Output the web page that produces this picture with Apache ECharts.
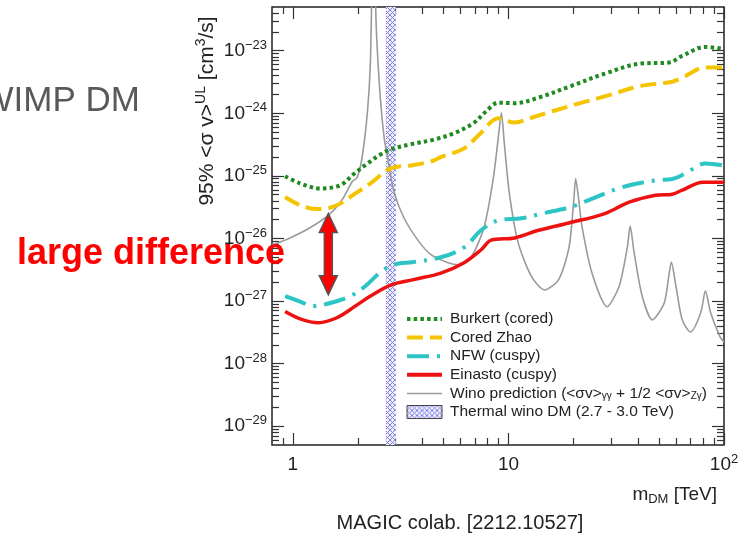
<!DOCTYPE html>
<html>
<head>
<meta charset="utf-8">
<script src="https://cdn.jsdelivr.net/npm/echarts@6.0.0/dist/echarts.min.js"></script>
<style>
html,body{margin:0;padding:0;background:#fff;}
#main{width:750px;height:538px;}
</style>
</head>
<body>
<div id="main"></div>
<script>
// m_DM [TeV] , 95% UL <sigma v> [cm^3/s]
var burkert = [[0.92,9.9e-26],[1.08,7.6e-26],[1.34,6.3e-26],[1.66,7.1e-26],[1.91,1.06e-25],[2.22,1.58e-25],[2.55,2.2e-25],[2.84,2.65e-25],[3.52,3.2e-25],[4.51,3.8e-25],[5.59,4.8e-25],[6.93,7.1e-25],[7.87,1.07e-24],[8.98,1.48e-24],[10.7,1.45e-24],[13.8,1.78e-24],[19.6,2.75e-24],[28.0,4.3e-24],[40.4,6.2e-24],[55.7,6.5e-24],[64.0,8.3e-24],[82.0,1.15e-23],[98.6,1.07e-23]];
var coredZhao = [[0.92,4.6e-26],[1.08,3.4e-26],[1.28,2.95e-26],[1.57,3.3e-26],[1.99,5.5e-26],[2.29,7.6e-26],[2.84,1.32e-25],[3.52,1.47e-25],[4.37,1.7e-25],[4.86,2.0e-25],[6.23,2.75e-25],[7.47,4.9e-25],[8.98,8.3e-25],[10.7,7.1e-25],[12.8,8.5e-25],[16.3,1.1e-24],[21.9,1.48e-24],[28.0,1.86e-24],[40.4,2.7e-24],[57.6,3.2e-24],[64.0,3.7e-24],[82.0,5.4e-24],[98.6,5.4e-24]];
var nfw = [[0.92,1.2e-27],[1.08,9.8e-28],[1.24,8.3e-28],[1.49,9.3e-28],[1.85,1.2e-27],[2.17,1.74e-27],[2.55,2.9e-27],[2.93,3.8e-27],[3.63,4.2e-27],[4.86,5.0e-27],[6.23,7.2e-27],[7.47,1.35e-26],[8.98,1.95e-26],[11.5,2.1e-26],[14.3,2.5e-26],[19.6,3.2e-26],[23.6,4.1e-26],[33.7,6.6e-26],[48.2,8.5e-26],[57.6,8.9e-26],[66.5,1.1e-25],[82.0,1.58e-25],[98.6,1.47e-25]];
var einasto = [[0.92,6.8e-28],[1.08,5.2e-28],[1.31,4.5e-28],[1.60,5.4e-28],[1.95,8.3e-28],[2.29,1.2e-27],[2.84,1.8e-27],[3.63,2.2e-27],[4.86,2.8e-27],[6.23,4.1e-27],[7.47,6.6e-27],[8.32,9.4e-27],[10.7,1.02e-26],[13.8,1.35e-26],[19.1,1.77e-26],[28.0,2.5e-26],[36.3,3.8e-26],[48.2,4.9e-26],[57.6,5.1e-26],[64.0,5.9e-26],[79.9,7.9e-26],[100,7.9e-26]];
var wino = [[0.8,7.9e-27],[0.97,1.02e-26],[1.2,1.48e-26],[1.49,2.5e-26],[1.71,4.4e-26],[1.88,8.0e-26],[1.99,9.5e-26],[2.10,2.1e-25],[2.22,1.1e-24],[2.29,6.9e-24],[2.36,1e-21],[2.44,2.1e-23],[2.55,1.6e-24],[2.66,3.7e-25],[2.75,2.0e-25],[2.93,5.9e-26],[3.26,2.2e-26],[3.80,9.4e-27],[4.37,5.5e-27],[5.24,4.1e-27],[5.91,3.8e-27],[6.71,5.0e-27],[7.7,1.5e-26],[8.52,9.5e-26],[9.08,5.9e-25],[9.27,1.02e-24],[9.57,3.3e-25],[10.1,5.2e-26],[11.1,8.5e-27],[12.8,2.45e-27],[14.7,1.5e-27],[17.1,2.2e-27],[19.1,7.2e-27],[20.1,4.1e-26],[20.5,9.1e-26],[21.2,4.1e-26],[21.9,1.6e-26],[24.4,2.8e-27],[28.7,8.1e-28],[32.6,1.7e-27],[35.6,7.2e-27],[36.7,1.58e-26],[38.3,5.9e-27],[41.8,1.17e-27],[46.5,5.0e-28],[52.8,9.3e-28],[55.7,2.8e-27],[57.0,4.2e-27],[59.5,1.95e-27],[64.0,5.0e-28],[69.9,3.2e-28],[78.0,6.5e-28],[82.0,1.45e-27],[86.7,6.5e-28],[95.8,2.7e-28],[100,2.2e-28]];
var thermalBand = [2.7, 3.0];
var names = ['Burkert (cored)', 'Cored Zhao', 'NFW (cuspy)', 'Einasto (cuspy)', 'Wino prediction', 'Thermal wino DM (2.7 - 3.0 TeV)'];

var xMin = 0.8, xMax = 100, yMin = 5e-30, yMax = 5e-23;
var xMajor = [1, 10, 100];
var xMinor = [0.9, 2, 3, 4, 5, 6, 7, 8, 9, 20, 30, 40, 50, 60, 70, 80, 90];
// y tick labels are powers of ten: 10^-29 ... 10^-23
var yExp = [-29, -28, -27, -26, -25, -24, -23];
// tick axes work in units of 1e-30 cm^3/s (ECharts rounds tiny log ticks to 0)
var UNIT = 30;
var yMajorS = yExp.map(function (p) { return Math.pow(10, p + UNIT); });
var yMinorS = [];
for (var p = -30; p <= -23; p++) {
  for (var k = 2; k <= 9; k++) {
    var s = k * Math.pow(10, p + UNIT);
    if (s > yMin * 1.01 * Math.pow(10, UNIT) && s < yMax * 0.99 * Math.pow(10, UNIT)) yMinorS.push(s);
  }
}
// arrow annotation (mass, top, bottom)
var arrowAt = [1.46, 2.5e-26, 1.26e-27];

var FONT = 'Liberation Sans, Arial, Helvetica, sans-serif';

function hatch() {
  var c = document.createElement('canvas');
  c.width = 5; c.height = 5;
  var g = c.getContext('2d');
  g.fillStyle = '#eeeefd';
  g.fillRect(0, 0, 5, 5);
  g.strokeStyle = '#8282e0';
  g.lineWidth = 1;
  g.beginPath();
  g.moveTo(0, 0); g.lineTo(5, 5);
  g.moveTo(5, 0); g.lineTo(0, 5);
  g.stroke();
  return c;
}
var pattern = {image: hatch(), repeat: 'repeat'};

var tickStyle = {color: '#333', width: 1.2};
var richNum = {
  b: {fontFamily: FONT, fontSize: 19, lineHeight: 24, color: '#222'},
  s: {fontFamily: FONT, fontSize: 13, lineHeight: 13, verticalAlign: 'top', color: '#222'}
};
function xAx(pos, vals, len, labels) {
  return {
    type: 'log', min: xMin, max: xMax, position: pos,
    axisLine: {show: false, onZero: false}, splitLine: {show: false},
    axisTick: {show: true, inside: true, length: len, lineStyle: tickStyle, customValues: vals},
    axisLabel: labels ? {
      show: true, margin: 8, customValues: xMajor,
      formatter: function (v) { return v >= 100 ? '{b|10}{s|2}' : '{b|' + v + '}'; },
      rich: richNum
    } : {show: false}
  };
}
function yAx(pos, vals, len, labels) {
  return {
    type: 'log', min: yMin * Math.pow(10, UNIT), max: yMax * Math.pow(10, UNIT), position: pos,
    axisLine: {show: false, onZero: false}, splitLine: {show: false},
    axisTick: {show: true, inside: true, length: len, lineStyle: tickStyle, customValues: vals},
    axisLabel: labels ? {
      show: true, margin: 5, customValues: yMajorS,
      formatter: function (v) {
        var e = Math.round(Math.log10(v)) - UNIT;
        return '{b|10}{s|' + (e < 0 ? '\u2212' + (-e) : e) + '}';
      },
      rich: richNum
    } : {show: false}
  };
}

function lineSeries(name, data, color, width, type, z, smooth) {
  return {
    name: name, type: 'line', data: data, xAxisIndex: 0, yAxisIndex: 0,
    showSymbol: false, symbol: 'none', smooth: smooth,
    z: z, clip: true,
    lineStyle: {color: color, width: width, type: type, cap: 'butt'},
    itemStyle: {color: color},
    emphasis: {disabled: true}
  };
}

var chart = echarts.init(document.getElementById('main'), null, {renderer: 'canvas'});
var option = {
  animation: false,
  backgroundColor: '#fff',
  textStyle: {fontFamily: FONT},
  grid: {left: 272, right: 26, top: 7, bottom: 93, show: true, borderColor: '#222', borderWidth: 1.5, backgroundColor: 'transparent', outerBoundsMode: 'none'},
  xAxis: [
    xAx('bottom', xMajor, 12, true), xAx('bottom', xMinor, 7, false),
    xAx('top', xMajor, 12, false), xAx('top', xMinor, 7, false)
  ],
  yAxis: [
    // data axis (real units), no decoration
    {type: 'log', min: yMin, max: yMax, position: 'left', axisLine: {show: false}, axisTick: {show: false}, axisLabel: {show: false}, splitLine: {show: false}},
    yAx('left', yMajorS, 12, true), yAx('left', yMinorS, 7, false),
    yAx('right', yMajorS, 12, false), yAx('right', yMinorS, 7, false)
  ],
  legend: {
    orient: 'vertical', left: 405, top: 311, padding: 0, itemWidth: 35, itemHeight: 13, itemGap: 2.6,
    selectedMode: false,
    textStyle: {
      fontFamily: FONT, fontSize: 15.5, color: '#222', lineHeight: 16, padding: [0, 0, 0, 3],
      rich: {sub: {fontFamily: FONT, fontSize: 10, lineHeight: 10, verticalAlign: 'bottom', color: '#222'}}
    },
    formatter: function (n) {
      if (n === names[4]) return 'Wino prediction (<\u03c3v>{sub|\u03b3\u03b3} + 1/2 <\u03c3v>{sub|Z\u03b3})';
      return n;
    },
    data: [
      {name: names[0], itemStyle: {color: 'rgba(0,0,0,0)', borderWidth: 0}, lineStyle: {width: 4}},
      {name: names[1], itemStyle: {color: 'rgba(0,0,0,0)', borderWidth: 0}, lineStyle: {width: 4}},
      {name: names[2], itemStyle: {color: 'rgba(0,0,0,0)', borderWidth: 0}, lineStyle: {width: 4}},
      {name: names[3], itemStyle: {color: 'rgba(0,0,0,0)', borderWidth: 0}, lineStyle: {width: 4}},
      {name: names[4], itemStyle: {color: 'rgba(0,0,0,0)', borderWidth: 0}, lineStyle: {width: 1.5}},
      {name: names[5], icon: 'rect', itemStyle: {color: pattern, borderColor: '#444', borderWidth: 1}}
    ]
  },
  series: [
    {
      name: names[5], type: 'line', data: [], xAxisIndex: 0, yAxisIndex: 0, z: 1,
      markArea: {silent: true, itemStyle: {color: pattern, opacity: 1}, data: [[{xAxis: thermalBand[0]}, {xAxis: thermalBand[1]}]]}
    },
    lineSeries(names[4], wino, '#9a9a9a', 1.6, 'solid', 2, 0.25),
    lineSeries(names[0], burkert, '#1f8a1f', 4, [3.5, 3.2], 3, 0.35),
    lineSeries(names[1], coredZhao, '#f5c400', 4, [16, 7], 3, 0.35),
    lineSeries(names[2], nfw, '#2cc4c4', 4, [22, 8, 3, 8], 3, 0.35),
    lineSeries(names[3], einasto, '#ee1111', 3.5, 'solid', 3, 0.35)
  ]
};
chart.setOption(option);

// annotations
var pTop = chart.convertToPixel({seriesIndex: 1}, [arrowAt[0], arrowAt[1]]);
var pBot = chart.convertToPixel({seriesIndex: 1}, [arrowAt[0], arrowAt[2]]);
var ax = pTop[0], hw = 9, sw = 4, hh = 19;
var arrowPts = [
  [ax, pTop[1]], [ax + hw, pTop[1] + hh], [ax + sw, pTop[1] + hh], [ax + sw, pBot[1] - hh],
  [ax + hw, pBot[1] - hh], [ax, pBot[1]], [ax - hw, pBot[1] - hh], [ax - sw, pBot[1] - hh],
  [ax - sw, pTop[1] + hh], [ax - hw, pTop[1] + hh]
];

chart.setOption({
  graphic: [
    {type: 'text', x: 140, y: 101, z: 50, style: {text: 'WIMP DM', fontFamily: FONT, fontSize: 35, fill: '#595959', align: 'right', verticalAlign: 'middle'}},
    {type: 'text', x: 207, y: 111, rotation: Math.PI / 2, z: 50,
      style: {text: '95% <\u03c3 v>{s|UL} [cm{s|3}/s]', fontFamily: FONT, fontSize: 21, lineHeight: 26, fill: '#222', align: 'center', verticalAlign: 'middle',
        rich: {s: {fontFamily: FONT, fontSize: 14, lineHeight: 14, verticalAlign: 'top', fill: '#222'}}}},
    {type: 'text', x: 717, y: 495, z: 50,
      style: {text: 'm{d|DM} [TeV]', fontFamily: FONT, fontSize: 19, lineHeight: 22, fill: '#222', align: 'right', verticalAlign: 'middle',
        rich: {d: {fontFamily: FONT, fontSize: 13, lineHeight: 13, verticalAlign: 'bottom', fill: '#222'}}}},
    {type: 'text', x: 460, y: 523, z: 50, style: {text: 'MAGIC colab. [2212.10527]', fontFamily: FONT, fontSize: 20, fill: '#222', align: 'center', verticalAlign: 'middle'}},
    {type: 'polygon', z: 90, shape: {points: arrowPts}, style: {fill: '#ff0000', stroke: '#555', lineWidth: 1.5}},
    {type: 'text', x: 17, y: 254, z: 100, style: {text: 'large difference', fontFamily: FONT, fontSize: 36, fontWeight: 'bold', fill: '#ff0000', align: 'left', verticalAlign: 'middle'}}
  ]
});
</script>
</body>
</html>
